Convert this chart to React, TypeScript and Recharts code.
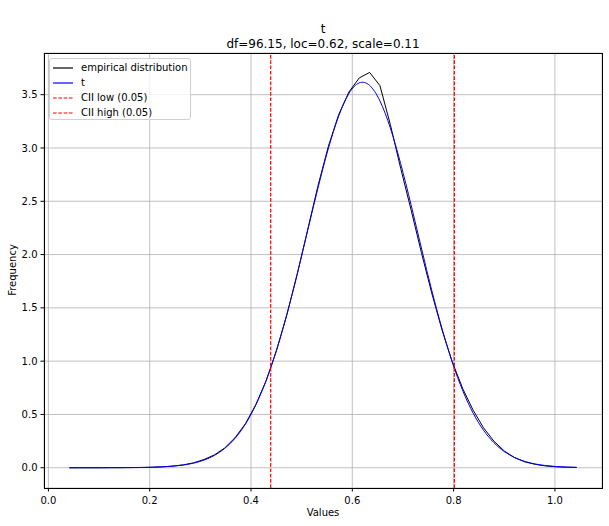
import React from "react";
import {
  CartesianGrid,
  Legend,
  Line,
  LineChart,
  ReferenceLine,
  XAxis,
  YAxis,
} from "recharts";

// bin centres of the histogram
const values = [
  0.0414, 0.0618, 0.0823, 0.1027, 0.1232, 0.1436, 0.164, 0.1845, 0.2049, 0.2254,
  0.2458, 0.2663, 0.2867, 0.3071, 0.3276, 0.348, 0.3685, 0.3889, 0.4093, 0.4298,
  0.4502, 0.4707, 0.4911, 0.5115, 0.532, 0.5524, 0.5729, 0.5933, 0.6137, 0.6342,
  0.6546, 0.6751, 0.6955, 0.716, 0.7364, 0.7568, 0.7773, 0.7977, 0.8182, 0.8386,
  0.859, 0.8795, 0.8999, 0.9204, 0.9408, 0.9612, 0.9817, 1.0021, 1.0226, 1.043,
];

const empirical = [
  0.0, 0.0, 0.0, 0.0, 0.001, 0.001, 0.002, 0.003, 0.005, 0.009,
  0.016, 0.027, 0.046, 0.077, 0.12, 0.185, 0.282, 0.412, 0.59, 0.815,
  1.098, 1.432, 1.812, 2.225, 2.64, 3.01, 3.31, 3.525, 3.657, 3.709,
  3.584, 3.22, 2.81, 2.42, 2.02, 1.64, 1.29, 0.99, 0.74, 0.54,
  0.375, 0.25, 0.158, 0.095, 0.055, 0.032, 0.017, 0.009, 0.005, 0.003,
];

const tFit = [
  0.0, 0.0, 0.0, 0.0, 0.0003, 0.0006, 0.0012, 0.0024, 0.0044, 0.0081,
  0.0145, 0.0253, 0.0431, 0.0714, 0.1152, 0.1808, 0.2759, 0.4087, 0.587, 0.817,
  1.101, 1.4375, 1.816, 2.2187, 2.6205, 2.99, 3.2966, 3.5107, 3.611, 3.587,
  3.4407, 3.1876, 2.853, 2.467, 2.0617, 1.666, 1.302, 0.985, 0.7216, 0.512,
  0.3526, 0.2354, 0.1526, 0.0961, 0.0589, 0.0352, 0.0205, 0.0116, 0.0064, 0.0035,
];

const ciiLow = 0.4389;
const ciiHigh = 0.8015;

const xTicks = [0, 0.2, 0.4, 0.6, 0.8, 1.0];
const yTicks = [0, 0.5, 1.0, 1.5, 2.0, 2.5, 3.0, 3.5];

const data = values.map((x, i) => ({ x, emp: empirical[i], t: tFit[i] }));

const FONT = "'DejaVu Sans', sans-serif";

const legendItems = [
  { label: "empirical distribution", color: "#000000", dash: undefined },
  { label: "t", color: "#0000ff", dash: undefined },
  { label: "CII low (0.05)", color: "#ff0000", dash: "3.7 1.6" },
  { label: "CII high (0.05)", color: "#ff0000", dash: "3.7 1.6" },
];

function LegendBox() {
  return (
    <div
      style={{
        width: 142,
        height: 62,
        boxSizing: "border-box",
        border: "1px solid #d0d0d0",
        borderRadius: 3,
        background: "rgba(255,255,255,0.8)",
        paddingTop: 1,
        fontFamily: FONT,
        fontSize: 10,
        color: "#000",
      }}
    >
      {legendItems.map((it) => (
        <div
          key={it.label}
          style={{ display: "flex", alignItems: "center", height: 15 }}
        >
          <svg width={20} height={10} style={{ marginLeft: 3, marginRight: 8 }}>
            <line
              x1={0}
              y1={5}
              x2={20}
              y2={5}
              stroke={it.color}
              strokeWidth={1.2}
              strokeDasharray={it.dash}
            />
          </svg>
          <span style={{ whiteSpace: "nowrap" }}>{it.label}</span>
        </div>
      ))}
    </div>
  );
}

export default function App() {
  const tickStyle = { fontSize: 10, fill: "#000", fontFamily: FONT };
  return (
    <div
      style={{
        position: "absolute",
        left: 0,
        top: 0,
        width: 609,
        height: 526,
        background: "#fff",
        fontFamily: FONT,
      }}
    >
      {/* title */}
      <div
        style={{
          position: "absolute",
          left: 44,
          width: 558,
          top: 22,
          textAlign: "center",
          fontSize: 12,
          lineHeight: "15px",
          color: "#000",
        }}
      >
        <div>t</div>
        <div>df=96.15, loc=0.62, scale=0.11</div>
      </div>

      <LineChart
        width={609}
        height={526}
        data={data}
        margin={{ top: 53, right: 7, bottom: 0, left: 0 }}
      >
        <CartesianGrid stroke="#b0b0b0" strokeWidth={0.8} />
        <XAxis
          dataKey="x"
          type="number"
          domain={[-0.0087, 1.093]}
          allowDataOverflow
          ticks={xTicks}
          tickFormatter={(v: number) => v.toFixed(1)}
          tick={tickStyle}
          tickSize={3.5}
          tickMargin={5}
          tickLine={{ stroke: "#000" }}
          axisLine={false}
          height={38}
        />
        <YAxis
          type="number"
          domain={[-0.19, 3.891]}
          allowDataOverflow
          ticks={yTicks}
          tickFormatter={(v: number) => v.toFixed(1)}
          tick={tickStyle}
          tickSize={3.5}
          tickMargin={3}
          tickLine={{ stroke: "#000" }}
          axisLine={false}
          width={44}
        />
        <Legend
          layout="vertical"
          align="center"
          verticalAlign="middle"
          content={() => <LegendBox />}
          wrapperStyle={{ left: 49, top: 58, width: 142 }}
        />
        <Line
          type="linear"
          dataKey="emp"
          stroke="#000000"
          strokeWidth={1}
          dot={false}
          isAnimationActive={false}
        />
        <Line
          type="natural"
          dataKey="t"
          stroke="#0000ff"
          strokeWidth={1}
          dot={false}
          isAnimationActive={false}
        />
        <ReferenceLine
          x={ciiLow}
          stroke="#ff0000"
          strokeWidth={1.2}
          strokeDasharray="3.7 1.6"
        />
        <ReferenceLine
          x={ciiHigh}
          stroke="#ff0000"
          strokeWidth={1.2}
          strokeDasharray="3.7 1.6"
        />
      </LineChart>

      {/* axes frame */}
      <div
        style={{
          position: "absolute",
          left: 44,
          top: 53,
          width: 559,
          height: 436,
          boxSizing: "border-box",
          border: "1px solid #000",
          pointerEvents: "none",
        }}
      />

      {/* axis labels */}
      <div
        style={{
          position: "absolute",
          left: 44,
          width: 558,
          top: 507,
          textAlign: "center",
          fontSize: 10,
          color: "#000",
        }}
      >
        Values
      </div>
      <div
        style={{
          position: "absolute",
          left: 12,
          top: 270,
          transform: "translate(-50%, -50%) rotate(-90deg)",
          fontSize: 10,
          color: "#000",
          whiteSpace: "nowrap",
        }}
      >
        Frequency
      </div>
    </div>
  );
}
